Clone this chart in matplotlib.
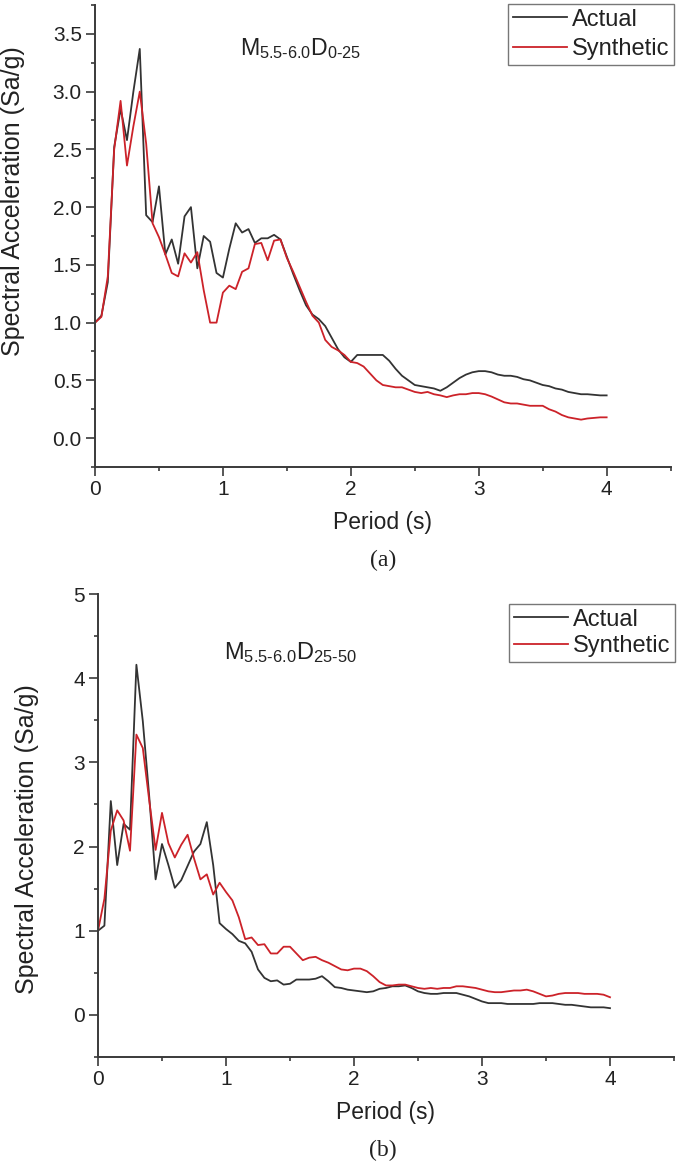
import numpy as np
import matplotlib
matplotlib.use("Agg")
import matplotlib.pyplot as plt
from matplotlib.ticker import MultipleLocator

plt.rcParams['font.family'] = ['Liberation Sans', 'DejaVu Sans']
plt.rcParams['mathtext.fontset'] = 'custom'
plt.rcParams['mathtext.rm'] = 'Liberation Sans'
plt.rcParams['mathtext.it'] = 'Liberation Sans:italic'
plt.rcParams['mathtext.bf'] = 'Liberation Sans:bold'

# period grid (s), same for both panels
period = [0.00, 0.05, 0.10, 0.15, 0.20, 0.25, 0.30, 0.35, 0.40, 0.45,
          0.50, 0.55, 0.60, 0.65, 0.70, 0.75, 0.80, 0.85, 0.90, 0.95,
          1.00, 1.05, 1.10, 1.15, 1.20, 1.25, 1.30, 1.35, 1.40, 1.45,
          1.50, 1.55, 1.60, 1.65, 1.70, 1.75, 1.80, 1.85, 1.90, 1.95,
          2.00, 2.05, 2.10, 2.15, 2.20, 2.25, 2.30, 2.35, 2.40, 2.45,
          2.50, 2.55, 2.60, 2.65, 2.70, 2.75, 2.80, 2.85, 2.90, 2.95,
          3.00, 3.05, 3.10, 3.15, 3.20, 3.25, 3.30, 3.35, 3.40, 3.45,
          3.50, 3.55, 3.60, 3.65, 3.70, 3.75, 3.80, 3.85, 3.90, 3.95,
          4.00]

# panel (a): M5.5-6.0 D0-25
actual_a = [1.00, 1.06, 1.35, 2.52, 2.85, 2.58, 3.00, 3.37, 1.93, 1.87,
            2.18, 1.59, 1.72, 1.51, 1.92, 2.00, 1.47, 1.75, 1.70, 1.43,
            1.39, 1.64, 1.86, 1.78, 1.81, 1.69, 1.73, 1.73, 1.76, 1.72,
            1.57, 1.42, 1.28, 1.15, 1.07, 1.03, 0.97, 0.87, 0.77, 0.70,
            0.66, 0.72, 0.72, 0.72, 0.72, 0.72, 0.67, 0.60, 0.54, 0.50,
            0.46, 0.45, 0.44, 0.43, 0.41, 0.44, 0.48, 0.52, 0.55, 0.57,
            0.58, 0.58, 0.57, 0.55, 0.54, 0.54, 0.53, 0.51, 0.50, 0.48,
            0.46, 0.45, 0.43, 0.42, 0.40, 0.39, 0.38, 0.38, 0.375, 0.37,
            0.37]
synthetic_a = [1.00, 1.05, 1.40, 2.50, 2.92, 2.36, 2.70, 3.00, 2.55, 1.86,
               1.74, 1.59, 1.43, 1.40, 1.60, 1.52, 1.61, 1.28, 1.00, 1.00,
               1.26, 1.32, 1.29, 1.44, 1.47, 1.68, 1.69, 1.54, 1.71, 1.72,
               1.56, 1.44, 1.31, 1.18, 1.06, 1.00, 0.85, 0.79, 0.76, 0.72,
               0.66, 0.65, 0.62, 0.56, 0.50, 0.46, 0.45, 0.44, 0.44, 0.42,
               0.40, 0.39, 0.40, 0.38, 0.37, 0.355, 0.37, 0.38, 0.38, 0.39,
               0.39, 0.38, 0.36, 0.335, 0.31, 0.30, 0.30, 0.29, 0.28, 0.28,
               0.28, 0.25, 0.23, 0.20, 0.18, 0.17, 0.16, 0.17, 0.175, 0.18,
               0.18]

# panel (b): M5.5-6.0 D25-50
actual_b = [1.00, 1.06, 2.54, 1.78, 2.27, 2.20, 4.16, 3.49, 2.60, 1.61,
            2.03, 1.78, 1.51, 1.60, 1.77, 1.94, 2.03, 2.29, 1.78, 1.09,
            1.02, 0.96, 0.88, 0.85, 0.75, 0.54, 0.44, 0.40, 0.41, 0.36,
            0.37, 0.42, 0.42, 0.42, 0.43, 0.46, 0.40, 0.33, 0.32, 0.30,
            0.29, 0.28, 0.27, 0.28, 0.31, 0.32, 0.34, 0.34, 0.35, 0.32,
            0.28, 0.26, 0.25, 0.25, 0.26, 0.26, 0.26, 0.24, 0.22, 0.19,
            0.16, 0.14, 0.14, 0.14, 0.13, 0.13, 0.13, 0.13, 0.13, 0.14,
            0.14, 0.14, 0.13, 0.12, 0.12, 0.11, 0.10, 0.09, 0.09, 0.09,
            0.08]
synthetic_b = [1.00, 1.38, 2.19, 2.43, 2.31, 1.95, 3.33, 3.17, 2.55, 1.96,
               2.40, 2.04, 1.87, 2.02, 2.14, 1.86, 1.61, 1.67, 1.43, 1.57,
               1.46, 1.36, 1.16, 0.90, 0.92, 0.83, 0.84, 0.73, 0.73, 0.81,
               0.81, 0.73, 0.65, 0.68, 0.69, 0.65, 0.62, 0.58, 0.54, 0.53,
               0.55, 0.55, 0.52, 0.46, 0.39, 0.35, 0.35, 0.36, 0.36, 0.34,
               0.32, 0.31, 0.32, 0.31, 0.32, 0.32, 0.34, 0.34, 0.33, 0.32,
               0.30, 0.28, 0.27, 0.27, 0.28, 0.29, 0.29, 0.30, 0.28, 0.25,
               0.22, 0.23, 0.25, 0.26, 0.26, 0.26, 0.25, 0.25, 0.25, 0.24,
               0.21]

W, H = 677, 1168
BLACK = '#333333'
RED = '#cc2229'
AXC = '#3a3a3a'
TXT = '#222222'


def px_axes(x0, y0, x1, y1):
    # pixel box (top-left origin) -> figure fraction rect
    return [x0 / W, 1 - y1 / H, (x1 - x0) / W, (y1 - y0) / H]


def style(ax, ymin, ymax, ymaj, ymin_step, yfmt, tick_fs):
    for s in ['top', 'right']:
        ax.spines[s].set_visible(False)
    for s in ['left', 'bottom']:
        ax.spines[s].set_linewidth(1.4)
        ax.spines[s].set_color(AXC)
    ax.set_xlim(0, 4.5)
    ax.set_ylim(ymin, ymax)
    ax.xaxis.set_major_locator(MultipleLocator(1))
    ax.xaxis.set_minor_locator(MultipleLocator(0.5))
    ax.yaxis.set_major_locator(MultipleLocator(ymaj))
    ax.yaxis.set_minor_locator(MultipleLocator(ymin_step))
    ax.yaxis.set_major_formatter(yfmt)
    ax.tick_params(which='major', direction='out', length=6.5, width=1.2,
                   color=AXC, labelsize=tick_fs, labelcolor=TXT, pad=3)
    ax.tick_params(which='minor', direction='out', length=3, width=1.2,
                   color=AXC)


def add_legend(ax, x, y, spacing):
    ax.legend(loc='upper left', bbox_to_anchor=(x / W, 1 - y / H),
              bbox_transform=fig.transFigure, fontsize=17, frameon=True,
              fancybox=False, edgecolor='#777777', framealpha=1,
              handlelength=2.3, handletextpad=0.2, borderpad=0.2,
              labelspacing=spacing, borderaxespad=0, labelcolor=TXT)


fig = plt.figure(figsize=(W / 100, H / 100), dpi=100)

# ---- panel (a)
ax1 = fig.add_axes(px_axes(95, 5, 670.6, 467))
ax1.plot(period, actual_a, color=BLACK, lw=1.3, label='Actual')
ax1.plot(period, synthetic_a, color=RED, lw=1.3, label='Synthetic')
style(ax1, -0.25, 3.75, 0.5, 0.25, '{x:.1f}', 15)
ax1.set_ylabel('Spectral Acceleration (Sa/g)', fontsize=18, color=TXT)
ax1.yaxis.set_label_coords(-0.122, 0.575)
ax1.set_xlabel('Period (s)', fontsize=16.5, color=TXT)
ax1.xaxis.set_label_coords(0.5, -0.095)
add_legend(ax1, 508, 4, 0.3)
fig.text(240 / W, 1 - 55 / H, r'$\mathrm{M}_{\text{5.5-6.0}}\mathrm{D}_{\text{0-25}}$',
         fontsize=16.7, color=TXT, va='baseline', ha='left')
fig.text(383 / W, 1 - 560 / H, '(a)', fontsize=17, family='Liberation Serif',
         ha='center', va='center', color=TXT)

# ---- panel (b)
ax2 = fig.add_axes(px_axes(98, 594, 674, 1057))
ax2.plot(period, actual_b, color=BLACK, lw=1.3, label='Actual')
ax2.plot(period, synthetic_b, color=RED, lw=1.3, label='Synthetic')
style(ax2, -0.5, 5, 1, 0.5, '{x:.0f}', 15)
ax2.set_ylabel('Spectral Acceleration (Sa/g)', fontsize=18, color=TXT)
ax2.yaxis.set_label_coords(-0.102, 0.47)
ax2.set_xlabel('Period (s)', fontsize=16.5, color=TXT)
ax2.xaxis.set_label_coords(0.5, -0.095)
add_legend(ax2, 509, 604, 0.2)
fig.text(224 / W, 1 - 659 / H, r'$\mathrm{M}_{\text{5.5-6.0}}\mathrm{D}_{\text{25-50}}$',
         fontsize=17, color=TXT, va='baseline', ha='left')
fig.text(383 / W, 1 - 1150 / H, '(b)', fontsize=17, family='Liberation Serif',
         ha='center', va='center', color=TXT)

fig.savefig('out.png', dpi=100)
